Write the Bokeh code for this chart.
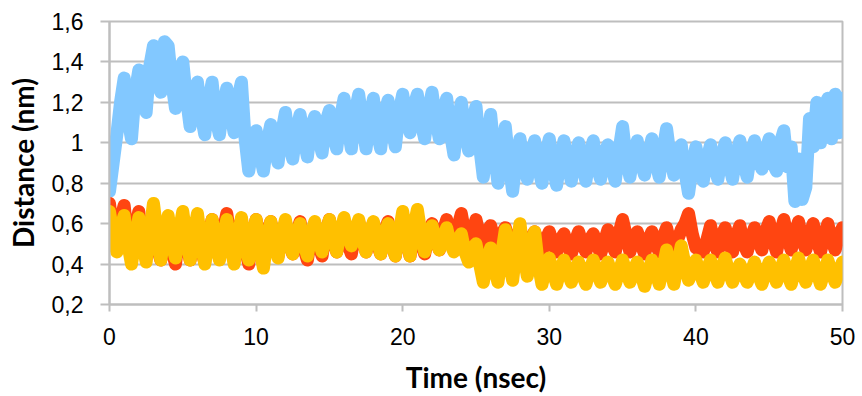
from bokeh.plotting import figure
from bokeh.models import Range1d, FixedTicker, CustomJSTickFormatter
from bokeh.embed import file_html
from bokeh.resources import INLINE

# time axis (ns), sampled every 0.25 ns
time_ns = [i * 0.25 for i in range(201)]

blue_nm = [
    0.76, 0.90, 1.04, 1.20, 1.32, 1.12, 1.02, 1.25, 1.36, 1.22,
    1.15, 1.38, 1.48, 1.30, 1.25, 1.50, 1.48, 1.30, 1.17, 1.33,
    1.40, 1.22, 1.08, 1.25, 1.30, 1.14, 1.04, 1.20, 1.30, 1.12,
    1.04, 1.18, 1.27, 1.15, 1.05, 1.22, 1.30, 1.02, 0.86, 0.98,
    1.06, 0.95, 0.86, 1.00, 1.09, 0.97, 0.90, 1.05, 1.15, 1.00,
    0.92, 1.06, 1.14, 1.02, 0.93, 1.08, 1.13, 1.03, 0.95, 1.10,
    1.16, 1.04, 0.97, 1.12, 1.22, 1.08, 0.97, 1.15, 1.24, 1.10,
    0.97, 1.12, 1.22, 1.05, 0.97, 1.14, 1.21, 1.08, 0.98, 1.15,
    1.24, 1.12, 1.05, 1.18, 1.24, 1.10, 1.02, 1.16, 1.25, 1.12,
    1.02, 1.15, 1.22, 1.05, 0.94, 1.10, 1.20, 1.06, 0.96, 1.10,
    1.18, 0.98, 0.83, 1.00, 1.14, 0.95, 0.80, 0.96, 1.08, 0.90,
    0.76, 0.92, 1.02, 0.90, 0.82, 0.95, 1.01, 0.88, 0.80, 0.94,
    1.02, 0.88, 0.79, 0.92, 1.01, 0.90, 0.81, 0.93, 1.00, 0.89,
    0.81, 0.94, 1.01, 0.88, 0.82, 0.95, 0.99, 0.88, 0.81, 0.96,
    1.08, 0.92, 0.83, 0.95, 1.01, 0.90, 0.84, 0.94, 1.02, 0.91,
    0.83, 0.96, 1.07, 0.93, 0.84, 0.92, 0.99, 0.86, 0.75, 0.88,
    0.98, 0.88, 0.81, 0.92, 0.99, 0.89, 0.82, 0.93, 1.00, 0.90,
    0.82, 0.94, 1.01, 0.90, 0.83, 0.95, 1.01, 0.92, 0.87, 0.96,
    1.02, 0.90, 0.86, 1.00, 1.06, 0.88, 0.98, 0.71, 0.92, 0.72,
    0.78, 1.12, 0.98, 1.20, 1.00, 1.18, 1.22, 1.02, 1.24, 1.05,
    1.22,
]

red_nm = [
    0.70, 0.55, 0.47, 0.62, 0.69, 0.52, 0.45, 0.58, 0.66, 0.50,
    0.44, 0.58, 0.64, 0.48, 0.42, 0.56, 0.62, 0.47, 0.40, 0.55,
    0.63, 0.50, 0.42, 0.55, 0.60, 0.47, 0.41, 0.54, 0.62, 0.50,
    0.43, 0.56, 0.65, 0.52, 0.44, 0.55, 0.62, 0.48, 0.40, 0.54,
    0.62, 0.50, 0.43, 0.56, 0.61, 0.49, 0.44, 0.55, 0.60, 0.50,
    0.45, 0.55, 0.61, 0.48, 0.42, 0.54, 0.60, 0.50, 0.44, 0.56,
    0.62, 0.52, 0.46, 0.55, 0.60, 0.50, 0.45, 0.56, 0.61, 0.52,
    0.46, 0.55, 0.60, 0.50, 0.45, 0.56, 0.61, 0.50, 0.44, 0.55,
    0.63, 0.52, 0.44, 0.56, 0.62, 0.50, 0.45, 0.54, 0.60, 0.52,
    0.47, 0.56, 0.62, 0.52, 0.47, 0.58, 0.65, 0.55, 0.48, 0.56,
    0.62, 0.54, 0.50, 0.56, 0.59, 0.52, 0.50, 0.55, 0.58, 0.52,
    0.48, 0.54, 0.57, 0.50, 0.47, 0.53, 0.56, 0.50, 0.46, 0.52,
    0.56, 0.50, 0.46, 0.52, 0.55, 0.49, 0.45, 0.51, 0.56, 0.50,
    0.46, 0.52, 0.55, 0.50, 0.45, 0.51, 0.57, 0.50, 0.46, 0.55,
    0.62, 0.54, 0.46, 0.52, 0.56, 0.50, 0.45, 0.52, 0.56, 0.50,
    0.46, 0.53, 0.58, 0.50, 0.45, 0.52, 0.57, 0.60, 0.65, 0.55,
    0.48, 0.47, 0.46, 0.52, 0.59, 0.50, 0.46, 0.54, 0.58, 0.50,
    0.46, 0.54, 0.59, 0.50, 0.46, 0.53, 0.58, 0.52, 0.47, 0.56,
    0.61, 0.52, 0.46, 0.55, 0.62, 0.53, 0.47, 0.55, 0.61, 0.52,
    0.47, 0.54, 0.60, 0.52, 0.46, 0.54, 0.60, 0.52, 0.47, 0.54,
    0.58,
]

yellow_nm = [
    0.66, 0.55, 0.46, 0.58, 0.64, 0.50, 0.40, 0.52, 0.63, 0.50,
    0.41, 0.56, 0.70, 0.55, 0.42, 0.54, 0.64, 0.50, 0.43, 0.56,
    0.66, 0.52, 0.42, 0.55, 0.65, 0.50, 0.40, 0.52, 0.62, 0.50,
    0.42, 0.54, 0.62, 0.50, 0.40, 0.52, 0.63, 0.50, 0.42, 0.54,
    0.62, 0.48, 0.38, 0.52, 0.61, 0.50, 0.43, 0.54, 0.62, 0.52,
    0.45, 0.55, 0.60, 0.50, 0.44, 0.54, 0.61, 0.52, 0.46, 0.55,
    0.62, 0.53, 0.46, 0.56, 0.63, 0.55, 0.49, 0.56, 0.62, 0.52,
    0.46, 0.55, 0.61, 0.52, 0.45, 0.54, 0.60, 0.50, 0.44, 0.55,
    0.66, 0.53, 0.44, 0.58, 0.67, 0.55, 0.46, 0.53, 0.59, 0.52,
    0.47, 0.53, 0.58, 0.50, 0.46, 0.52, 0.55, 0.46, 0.41, 0.48,
    0.50, 0.40, 0.31, 0.42, 0.48, 0.38, 0.31, 0.45, 0.57, 0.42,
    0.32, 0.48, 0.60, 0.45, 0.34, 0.48, 0.56, 0.40, 0.30, 0.38,
    0.43, 0.36, 0.30, 0.37, 0.42, 0.36, 0.31, 0.37, 0.41, 0.35,
    0.30, 0.37, 0.42, 0.36, 0.31, 0.37, 0.41, 0.35, 0.30, 0.36,
    0.42, 0.36, 0.31, 0.37, 0.41, 0.35, 0.29, 0.36, 0.42, 0.36,
    0.30, 0.38, 0.47, 0.38, 0.30, 0.40, 0.49, 0.40, 0.32, 0.37,
    0.42, 0.36, 0.31, 0.37, 0.42, 0.36, 0.31, 0.38, 0.43, 0.36,
    0.31, 0.36, 0.40, 0.35, 0.31, 0.36, 0.41, 0.35, 0.30, 0.36,
    0.41, 0.36, 0.31, 0.37, 0.42, 0.35, 0.30, 0.37, 0.43, 0.36,
    0.31, 0.37, 0.42, 0.36, 0.30, 0.36, 0.42, 0.36, 0.31, 0.36,
    0.41,
]

x_ticks = [0, 10, 20, 30, 40, 50]
y_ticks = [0.2, 0.4, 0.6, 0.8, 1.0, 1.2, 1.4, 1.6]

GRID = "#BEBEBE"

p = figure(width=862, height=396, output_backend="svg", toolbar_location=None,
           x_range=Range1d(0, 50), y_range=Range1d(0.2, 1.6),
           min_border_left=109, min_border_right=20, min_border_top=21, min_border_bottom=88)

p.line(time_ns, blue_nm, line_color="#82C8FF", line_width=13, line_join="round", line_cap="round")
p.line(time_ns, red_nm, line_color="#FF4511", line_width=13, line_join="round", line_cap="round")
p.line(time_ns, yellow_nm, line_color="#FFC000", line_width=13, line_join="round", line_cap="round")

p.outline_line_color = GRID
p.outline_line_width = 2
p.background_fill_color = "white"
p.border_fill_color = "white"

p.xgrid.grid_line_color = None
p.ygrid.grid_line_color = GRID
p.ygrid.grid_line_width = 2
p.ygrid.ticker = FixedTicker(ticks=y_ticks)

fmt = CustomJSTickFormatter(code="""
    var v = Math.round(tick * 10) / 10;
    return v.toString().replace('.', ',');
""")

p.xaxis.ticker = FixedTicker(ticks=x_ticks)
p.yaxis.ticker = FixedTicker(ticks=y_ticks)
p.yaxis.formatter = fmt
p.xaxis.formatter = fmt

for ax in (p.xaxis[0], p.yaxis[0]):
    ax.axis_line_color = GRID
    ax.axis_line_width = 2
    ax.major_tick_line_color = GRID
    ax.major_tick_line_width = 2
    ax.major_tick_in = 0
    ax.minor_tick_line_color = None
    ax.major_label_text_font = "Liberation Sans"
    ax.major_label_text_font_size = "23px"
    ax.major_label_text_color = "black"
    ax.axis_label_text_font = "Lato"
    ax.axis_label_text_font_style = "bold"
    ax.axis_label_text_font_size = "28px"
    ax.axis_label_text_color = "black"

p.xaxis.major_tick_out = 7
p.yaxis.major_tick_out = 9
p.xaxis.major_label_standoff = 16
p.yaxis.major_label_standoff = 17
p.xaxis.axis_label = "Time (nsec)"
p.yaxis.axis_label = "Distance (nm)"
p.xaxis.axis_label_standoff = 12
p.yaxis.axis_label_standoff = 9

open("out.html", "w").write(file_html(p, INLINE))
